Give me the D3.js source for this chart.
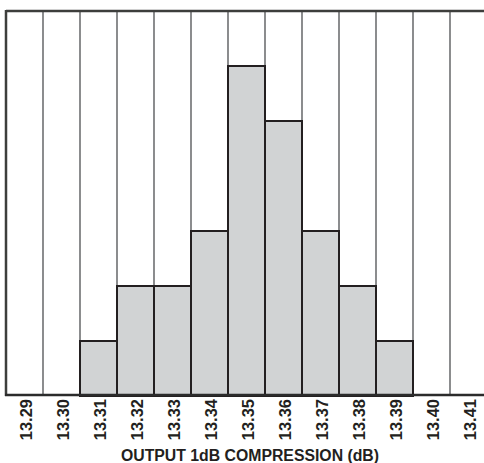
<!DOCTYPE html>
<html><head><meta charset="utf-8">
<script src="https://cdn.jsdelivr.net/npm/d3@7"></script>
<style>html,body{margin:0;padding:0;background:#fff;}svg{display:block;}</style>
</head><body>
<svg id="c" width="484" height="463"></svg>
<script>
const categories = ["13.29","13.30","13.31","13.32","13.33","13.34","13.35","13.36","13.37","13.38","13.39","13.40","13.41"];
const counts = [0,0,1,2,2,3,6,5,3,2,1,0,0];
const xTitle = "OUTPUT 1dB COMPRESSION (dB)";

(function(){
const svg = d3.select("#c");
const pLeft = 6, pTop = 11, pBottom = 396, colW = 37;
const x = d3.scaleBand().domain(categories).range([pLeft, pLeft + colW*categories.length]).padding(0);
const y = d3.scaleLinear().domain([0, 7]).range([pBottom, pTop]);

// gridlines at band boundaries
svg.append("g").selectAll("line").data(categories.slice(1)).join("line")
  .attr("x1", d => x(d)).attr("x2", d => x(d))
  .attr("y1", pTop).attr("y2", pBottom)
  .attr("stroke", "#6f7072").attr("stroke-width", 1.6);

// bars
const data = categories.map((c,i)=>({c, v: counts[i]})).filter(d=>d.v>0);
svg.append("g").selectAll("rect").data(data).join("rect")
  .attr("x", d => x(d.c)).attr("width", x.bandwidth())
  .attr("y", d => y(d.v)).attr("height", d => y(0) - y(d.v))
  .attr("fill", "#d1d3d4").attr("stroke", "#231f20").attr("stroke-width", 2);

// frame
svg.append("line").attr("x1", pLeft).attr("x2", 484).attr("y1", pTop).attr("y2", pTop)
  .attr("stroke", "#3d3e3c").attr("stroke-width", 2.5);
svg.append("line").attr("x1", pLeft).attr("x2", pLeft).attr("y1", pTop-1).attr("y2", pBottom)
  .attr("stroke", "#3d3e3c").attr("stroke-width", 2.5);
svg.append("line").attr("x1", pLeft-1).attr("x2", 484).attr("y1", pBottom-1).attr("y2", pBottom-1)
  .attr("stroke", "#2b2b2b").attr("stroke-width", 2.5);

// axis
const ax = svg.append("g").attr("transform", `translate(0,${pBottom})`)
  .call(d3.axisBottom(x).tickSize(0).tickPadding(0));
ax.select(".domain").remove();
ax.attr("font-size", null).attr("font-family", null);
ax.selectAll("text")
  .attr("transform", "rotate(-90)")
  .attr("text-anchor", "end")
  .attr("x", -3).attr("y", 1.5).attr("dy", "0.35em").attr("dx", 0)
  .style("font-family", "'Liberation Sans', Arial, sans-serif")
  .style("font-weight", "bold").style("font-size", "16.5px").attr("fill", "#231f20");

svg.append("text").attr("x", 250).attr("y", 461)
  .attr("text-anchor", "middle")
  .style("font-family", "'Liberation Sans', Arial, sans-serif")
  .style("font-weight", "bold").style("font-size", "15.8px").attr("fill", "#231f20")
  .text(xTitle);
})();
</script>
</body></html>
